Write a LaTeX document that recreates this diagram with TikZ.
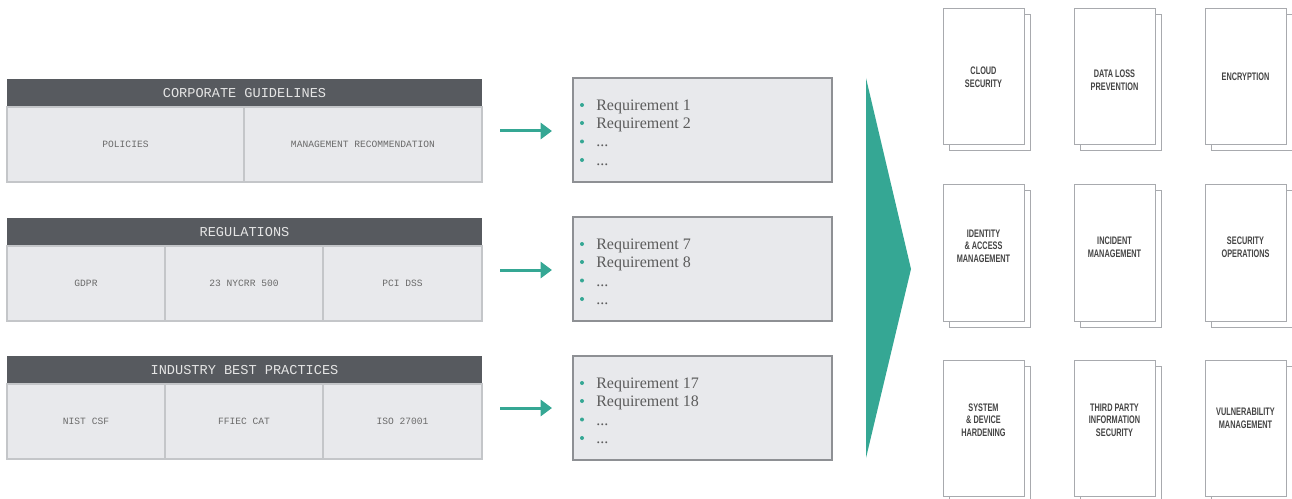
\documentclass[tikz,border=0pt]{standalone}
\usepackage{fontspec}
\setmainfont{Liberation Serif}
\newfontfamily\tabfont{Liberation Mono}
\newfontfamily\cardfont[FakeStretch=0.67]{Liberation Sans}
\usetikzlibrary{arrows.meta}
\definecolor{hdrgray}{HTML}{575A5F}
\definecolor{cellfill}{HTML}{E8E9EC}
\definecolor{cellline}{HTML}{C4C6C9}
\definecolor{boxline}{HTML}{8E9094}
\definecolor{tealc}{HTML}{35A794}
\definecolor{pageline}{HTML}{A8AAAE}
\definecolor{celltxt}{HTML}{6A6A6A}
\definecolor{reqtxt}{HTML}{5C5C5C}
\definecolor{cardtxt}{HTML}{444444}

% header bar of a source table: name, top, title
\newcommand\tablehead[3]{%
  \fill[hdrgray] (7,#2) rectangle (482,#2+28);
  \node[hdrtext] (#1) at (244.5,#2+14) {#3};}
% one cell of a source table: name, left, right, top, text
\newcommand\tablecell[5]{%
  \draw[cellbox] (#2,#4+28) rectangle (#3,#4+103);
  \node[celltext] (#1) at ({(#2+#3)/2},#4+65.5) {#5};}
% placeholder entry in a requirement list
\newcommand\moreitems{...}

\begin{document}
\begin{tikzpicture}[x=0.75pt,y=-0.75pt,
  hdrtext/.style={font=\tabfont\fontsize{10.2}{12}\selectfont, text=white!90!black, inner sep=0},
  celltext/.style={font=\tabfont\fontsize{7.2}{9}\selectfont, text=celltxt, inner sep=0},
  cellbox/.style={fill=cellfill, draw=cellline, line width=1.1pt},
  reqbox/.style={fill=cellfill, draw=boxline, line width=1pt, minimum width=194.25pt, minimum height=78pt, inner sep=0},
  reqline/.style={anchor=base west, font=\fontsize{12}{14}\selectfont, text=reqtxt, inner sep=0},
  flow/.style={draw=tealc, line width=2.25pt, -{Triangle[length=8.5pt,width=12pt]}},
  page/.style={fill=white, draw=pageline, line width=0.75pt},
  cardtext/.style={font=\cardfont\bfseries\fontsize{8.2}{9.5}\selectfont, text=cardtxt, align=center, inner sep=0}]
\useasboundingbox (0,0) rectangle (1292,499);

% source tables
\tablehead{t1}{79}{CORPORATE GUIDELINES}
\tablecell{t1a}{7}{244}{79}{POLICIES}
\tablecell{t1b}{244}{482}{79}{MANAGEMENT RECOMMENDATION}

\tablehead{t2}{218}{REGULATIONS}
\tablecell{t2a}{7}{165}{218}{GDPR}
\tablecell{t2b}{165}{323}{218}{23 NYCRR 500}
\tablecell{t2c}{323}{482}{218}{PCI DSS}

\tablehead{t3}{356}{INDUSTRY BEST PRACTICES}
\tablecell{t3a}{7}{165}{356}{NIST CSF}
\tablecell{t3b}{165}{323}{356}{FFIEC CAT}
\tablecell{t3c}{323}{482}{356}{ISO 27001}

% arrows to requirement lists
\foreach \i/\t in {1/79,2/218,3/356}{
  \coordinate (a\i s) at (500,\t+52);
  \coordinate (a\i e) at (552,\t+52);
  \draw[flow] (a\i s) -- (a\i e);
}

% requirement lists
\foreach \i/\t/\ra/\rb in {1/78/1/2,2/217/7/8,3/356/17/18}{
  \node[reqbox] (r\i) at (702.5,\t+52) {};
  \foreach \k/\dy/\txt in {1/27/Requirement \ra,2/45/Requirement \rb,3/63.5/\moreitems,4/82/\moreitems}{
    \fill[tealc] (582,\t+\dy) circle (2);
    \node[reqline] (r\i l\k) at (596,\t+\dy+5.5) {\txt};
  }
}

% big chevron
\fill[tealc] (866,78) -- (911,269) -- (866,458) -- cycle;

% domain cards, each with a page behind it
\foreach \x in {943,1074,1205}{
  \foreach \y in {9,185,360}{
    \draw[page] (\x+6,\y+6) rectangle (\x+87,\y+142);
    \draw[page] (\x,\y) rectangle (\x+81,\y+136);
  }
}
\node[cardtext] (cloud)  at (983.5,77.5)  {CLOUD\\SECURITY};
\node[cardtext] (dlp)    at (1114.5,80.5) {DATA LOSS\\PREVENTION};
\node[cardtext] (enc)    at (1245.5,77)   {ENCRYPTION};
\node[cardtext] (iam)    at (983.5,246)   {IDENTITY\\\& ACCESS\\MANAGEMENT};
\node[cardtext] (inc)    at (1114.5,247)  {INCIDENT\\MANAGEMENT};
\node[cardtext] (secops) at (1245.5,247)  {SECURITY\\OPERATIONS};
\node[cardtext] (hard)   at (983.5,420)   {SYSTEM\\\& DEVICE\\HARDENING};
\node[cardtext] (tpis)   at (1114.5,420)  {THIRD PARTY\\INFORMATION\\SECURITY};
\node[cardtext] (vuln)   at (1245.5,418.5){VULNERABILITY\\MANAGEMENT};
\end{tikzpicture}
\end{document}
